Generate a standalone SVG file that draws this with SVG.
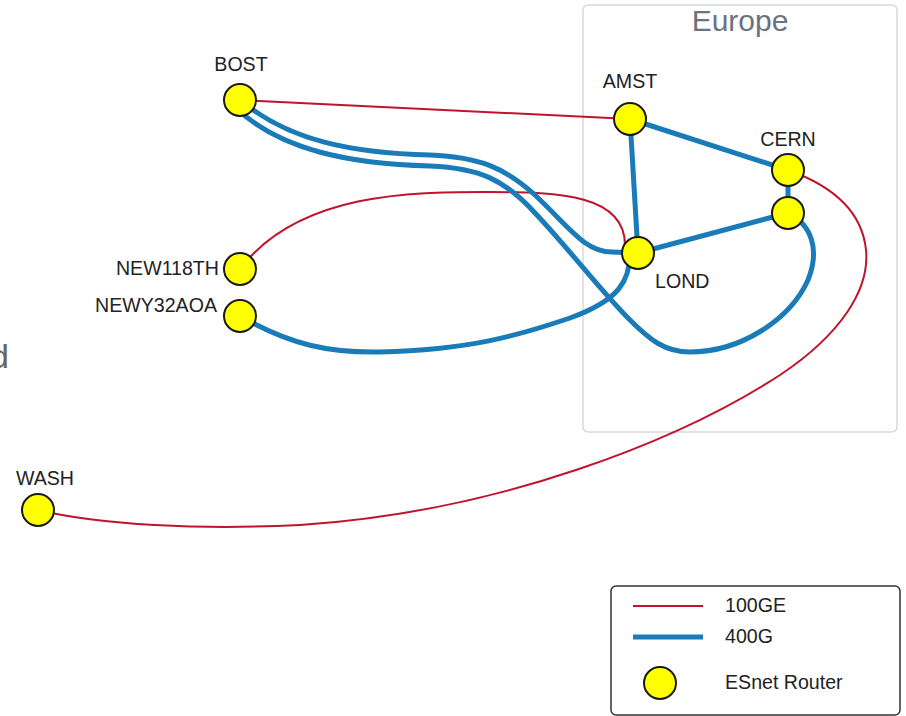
<svg xmlns="http://www.w3.org/2000/svg" width="906" height="716" viewBox="0 0 906 716">
<style>
.lbl{font-family:"Liberation Sans",Arial,sans-serif;font-size:19.6px;fill:#222}
.router{fill:#ffff00;stroke:#1a1a1a;stroke-width:2}
.e100{fill:none;stroke:#c0142c;stroke-width:2}
.e400{fill:none;stroke:#1a7bb9;stroke-width:5;stroke-linecap:round}
</style>
<rect width="906" height="716" fill="#ffffff"/>
<text x="-10" y="368" style="font-family:'Liberation Sans',Arial,sans-serif;font-size:34px;fill:#666">d</text>
<g id="europe">
<rect x="583" y="5" width="314" height="427" rx="5" fill="none" stroke="#d5dae0" stroke-width="1.5"/>
<text x="740" y="31" text-anchor="middle" style="font-family:'Liberation Sans',Arial,sans-serif;font-size:30px;fill:#6b7280">Europe</text>
</g>
<g id="connectors">
<line class="e100" x1="240" y1="100" x2="630" y2="119"/>
<path class="e100" d="M240,269 C300,190 420,192 490,192 C560,192 625,195 625,245"/>
<path class="e100" d="M38,510 C100,525 200,530 300,525 C500,512 680,440 780,375 C840,335 870,290 866,250 C862,210 830,185 788,170"/>
<path class="e400" d="M244,103 C290,140 350,153 430,155 C480,157 505,168 535,195 C570,228 585,252 612,252 L638,253"/>
<path class="e400" d="M236,108 C280,150 350,164 430,166 C480,168 505,180 535,213 C570,250 600,290 630,320 C650,340 665,352 690,352 C740,352 790,320 808,280 C820,250 812,225 788,213"/>
<path class="e400" d="M240,316 C290,345 330,353 380,352 C470,350 520,335 570,318 C620,300 630,280 630,253"/>
<line class="e400" x1="630" y1="119" x2="638" y2="253"/>
<line class="e400" x1="630" y1="119" x2="788" y2="170"/>
<line class="e400" x1="788" y1="170" x2="788" y2="213"/>
<line class="e400" x1="638" y1="253" x2="788" y2="213"/>
</g>
<g id="BOST"><circle class="router" cx="240" cy="100" r="16"/><text class="lbl" x="241" y="71" text-anchor="middle">BOST</text></g>
<g id="AMST"><circle class="router" cx="630" cy="119" r="16"/><text class="lbl" x="630" y="88" text-anchor="middle">AMST</text></g>
<g id="CERN"><circle class="router" cx="788" cy="170" r="16"/><text class="lbl" x="788" y="146" text-anchor="middle">CERN</text></g>
<g id="CERN2"><circle class="router" cx="788" cy="213" r="16"/></g>
<g id="LOND"><circle class="router" cx="638" cy="253" r="16"/><text class="lbl" x="655" y="288">LOND</text></g>
<g id="NEW118TH"><circle class="router" cx="240" cy="269" r="16"/><text class="lbl" x="219" y="275" text-anchor="end">NEW118TH</text></g>
<g id="NEWY32AOA"><circle class="router" cx="240" cy="316" r="16"/><text class="lbl" x="217" y="312" text-anchor="end">NEWY32AOA</text></g>
<g id="WASH"><circle class="router" cx="38" cy="510" r="16"/><text class="lbl" x="45" y="485" text-anchor="middle">WASH</text></g>
<g id="legend">
<rect x="611" y="586" width="289" height="129" rx="5" fill="#fff" stroke="#333" stroke-width="1.5"/>
<line class="e100" x1="633" y1="606" x2="703" y2="606"/>
<line x1="633" y1="637" x2="703" y2="637" stroke="#1a7bb9" stroke-width="5"/>
<circle class="router" cx="660" cy="683" r="16"/>
<text class="lbl" x="725" y="612">100GE</text>
<text class="lbl" x="725" y="643">400G</text>
<text class="lbl" x="725" y="689">ESnet Router</text>
</g>
</svg>
